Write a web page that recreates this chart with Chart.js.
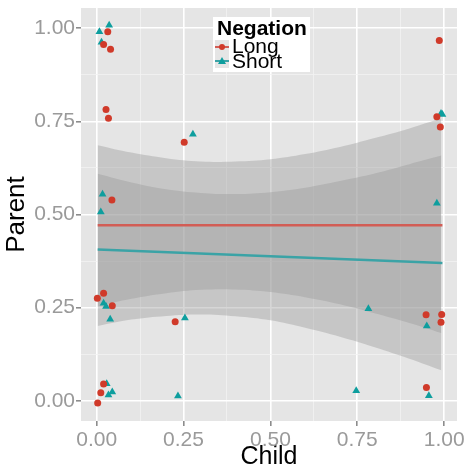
<!DOCTYPE html>
<html><head><meta charset="utf-8">
<script src="https://cdn.jsdelivr.net/npm/chart.js@4"></script>
<style>
html,body{margin:0;padding:0;background:#fff;}
#wrap{position:relative;width:465px;height:467px;}
canvas{display:block;}
#legend{position:absolute;left:213px;top:17px;width:97px;height:55px;background:#fff;font-family:"Liberation Sans",Arial,sans-serif;color:#000;}
#legend .t{position:absolute;font-size:21px;line-height:21px;white-space:nowrap;}
#legend .key{position:absolute;left:2px;width:14px;height:14px;background:#E5E5E5;}
#legend .key .ln{position:absolute;left:0;top:6px;width:14px;height:2px;}
#legend .key .dot{position:absolute;left:4px;top:4px;width:6px;height:6px;border-radius:50%;}
#legend .key .tri{position:absolute;left:3px;top:3px;width:0;height:0;border-left:4px solid transparent;border-right:4px solid transparent;border-bottom:7px solid #0E9E9E;}
</style></head>
<body>
<div id="wrap">
<canvas id="c" width="465" height="467"></canvas>
<div id="legend">
  <div class="t" style="left:4px;top:0px;font-weight:bold;">Negation</div>
  <div class="key" style="top:23px;"><div class="ln" style="background:#D25D55"></div><div class="dot" style="background:#D03A2A"></div></div>
  <div class="t" style="left:19px;top:18px;">Long</div>
  <div class="key" style="top:37px;"><div class="ln" style="background:#3BA3A6"></div><div class="tri"></div></div>
  <div class="t" style="left:19px;top:33px;">Short</div>
</div>
</div>
<script>
// ---- data ----
const longX  = [0.032,0.020,0.040,0.027,0.034,0.252,0.044,0.002,0.020,0.045,0.226,0.020,0.012,0.003,0.986,0.979,0.989,0.948,0.993,0.991,0.949];
const longY  = [0.990,0.956,0.943,0.782,0.758,0.694,0.539,0.275,0.289,0.255,0.212,0.045,0.022,-0.006,0.967,0.762,0.735,0.231,0.232,0.211,0.036];
const shortX = [0.008,0.036,0.014,0.277,0.017,0.012,0.020,0.027,0.039,0.254,0.029,0.034,0.045,0.234,0.991,0.995,0.979,0.782,0.950,0.747,0.956];
const shortY = [0.990,1.008,0.962,0.715,0.554,0.507,0.262,0.253,0.219,0.222,0.046,0.016,0.024,0.013,0.771,0.768,0.530,0.247,0.201,0.027,0.014];

const fitX      = [0.003, 0.995];
const longFit   = [0.471, 0.471];
const shortFit  = [0.406, 0.370];

const bandX      = [0.003,0.1,0.2,0.3,0.4,0.5,0.6,0.7,0.8,0.9,0.992];
const longUpper  = [0.686,0.666,0.651,0.642,0.642,0.648,0.662,0.681,0.705,0.731,0.758];
const longLower  = [0.254,0.274,0.289,0.298,0.299,0.292,0.278,0.259,0.235,0.209,0.182];
const shortUpper = [0.609,0.586,0.568,0.558,0.555,0.560,0.572,0.590,0.610,0.635,0.658];
const shortLower = [0.201,0.218,0.228,0.232,0.227,0.216,0.196,0.172,0.144,0.113,0.082];

const majorTicks  = [0, 0.25, 0.5, 0.75, 1];
const minorTicks  = [0.125, 0.375, 0.625, 0.875];
const tickLabels  = ['0.00','0.25','0.50','0.75','1.00'];
const seriesNames = ['Long','Short'];

// ---- styles ----
const RED_PT='#D03A2A', TEAL_PT='#0E9E9E', RED_LN='#D25D55', TEAL_LN='#3BA3A6';
const BAND='rgba(153,153,153,0.4)';
const FONT='"Liberation Sans", Arial, sans-serif';

const pts=(xs,ys)=>xs.map((x,i)=>({x:x,y:ys[i]}));
const allTicks=[...majorTicks,...minorTicks].sort((a,b)=>a-b);
const isMajor=v=>majorTicks.indexOf(v)>=0;

const plotBg={id:'plotBg',beforeDraw(chart){const {ctx,chartArea:a}=chart;ctx.save();ctx.fillStyle='#E5E5E5';ctx.fillRect(a.left,a.top,a.right-a.left,a.bottom-a.top);ctx.restore();}};

function axis(min,max,title,isY){
  return {
    type:'linear',min:min,max:max,
    afterBuildTicks:s=>{s.ticks=allTicks.map(v=>({value:v}));},
    afterFit:s=>{
      if(isY){s.width=81;} else {s.height=46;}
      s.paddingTop=0;s.paddingBottom=0;s.paddingLeft=0;s.paddingRight=0;
    },
    border:{display:false},
    grid:{
      color:c=>(c.tick&&isMajor(c.tick.value))?'#FFFFFF':'#F3F3F3',
      lineWidth:c=>(c.tick&&isMajor(c.tick.value))?1.6:0.8,
      tickColor:c=>(c.tick&&isMajor(c.tick.value))?'#8C8C8C':'rgba(0,0,0,0)',
      tickLength:5,drawTicks:true
    },
    ticks:{autoSkip:false,maxRotation:0,padding:isY?1:2,color:'#9A9A9A',font:{family:FONT,size:21},
      callback:v=>{const i=majorTicks.indexOf(v);return i>=0?tickLabels[i]:'';}},
    title:{display:true,text:title,color:'#000',font:{family:FONT,size:isY?26:25,lineHeight:isY?1:0.8},padding:isY?{top:4,bottom:0}:{top:0,bottom:0}}
  };
}

new Chart(document.getElementById('c'),{
  type:'scatter',
  data:{datasets:[
    {label:seriesNames[0],data:pts(longX,longY),pointStyle:'circle',pointRadius:3.5,backgroundColor:RED_PT,borderWidth:0,order:0},
    {label:seriesNames[1],data:pts(shortX,shortY),pointStyle:'triangle',pointRadius:4.5,backgroundColor:TEAL_PT,borderWidth:0,order:0},
    {type:'line',label:'fitL',data:pts(fitX,longFit),borderColor:RED_LN,borderWidth:2.5,pointRadius:0,fill:false,order:1},
    {type:'line',label:'fitS',data:pts(fitX,shortFit),borderColor:TEAL_LN,borderWidth:2.5,pointRadius:0,fill:false,order:1},
    {type:'line',label:'bLU',data:pts(bandX,longUpper),borderColor:'rgba(0,0,0,0)',borderWidth:1,pointRadius:0,fill:'+1',backgroundColor:BAND,tension:0.4,order:2},
    {type:'line',label:'bLL',data:pts(bandX,longLower),borderColor:'rgba(0,0,0,0)',borderWidth:1,pointRadius:0,fill:false,tension:0.4,order:2},
    {type:'line',label:'bSU',data:pts(bandX,shortUpper),borderColor:'rgba(0,0,0,0)',borderWidth:1,pointRadius:0,fill:'+1',backgroundColor:BAND,tension:0.4,order:2},
    {type:'line',label:'bSL',data:pts(bandX,shortLower),borderColor:'rgba(0,0,0,0)',borderWidth:1,pointRadius:0,fill:false,tension:0.4,order:2}
  ]},
  options:{
    responsive:false,animation:false,devicePixelRatio:1,
    layout:{padding:{top:8,right:8,left:0,bottom:0}},
    plugins:{legend:{display:false},tooltip:{enabled:false}},
    scales:{x:axis(-0.045,1.037,'Child',false),y:axis(-0.054,1.054,'Parent',true)}
  },
  plugins:[plotBg]
});
</script>
</body></html>
